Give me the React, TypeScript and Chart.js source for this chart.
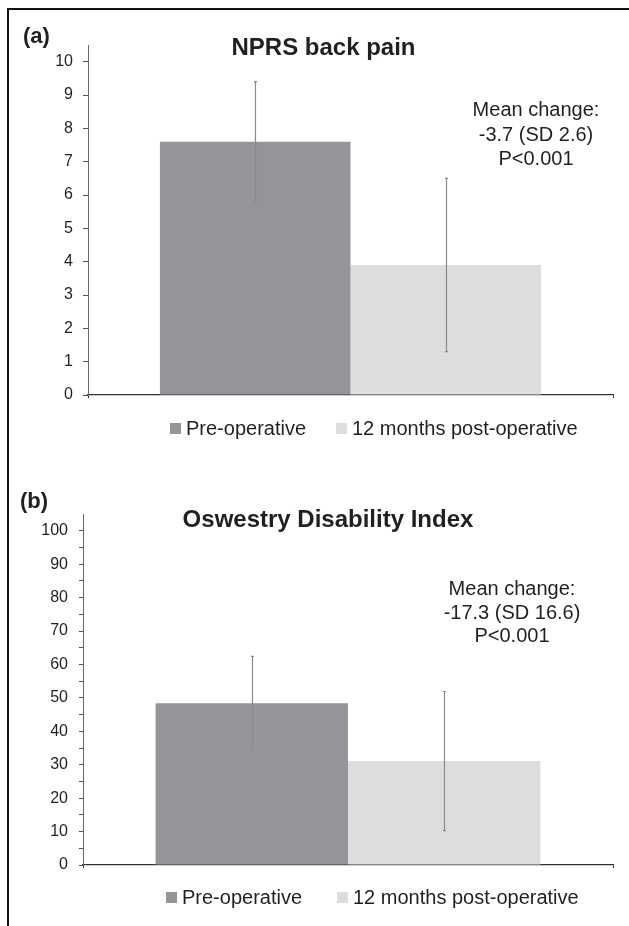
import React, { useEffect, useRef } from 'react';
import { Chart, registerables } from 'chart.js';

Chart.register(...registerables);

// ---------------- data ----------------
const seriesLabels = ['Pre-operative', '12 months post-operative'];
const seriesColors = ['#939598', '#dcddde'];

// Panel (a) NPRS back pain
const nprsCategories = ['NPRS back pain'];
const nprsPreMean = [7.6];
const nprsPreSD = [1.8];
const nprsPostMean = [3.9];
const nprsPostSD = [2.6];
const nprsTicks = [0, 1, 2, 3, 4, 5, 6, 7, 8, 9, 10];
const nprsNotes = ['Mean change:', '-3.7 (SD 2.6)', 'P<0.001'];

// Panel (b) Oswestry Disability Index
const odiCategories = ['Oswestry Disability Index'];
const odiPreMean = [48.4];
const odiPreSD = [14.0];
const odiPostMean = [31.1];
const odiPostSD = [20.8];
const odiTicks = [0, 5, 10, 15, 20, 25, 30, 35, 40, 45, 50, 55, 60, 65, 70, 75, 80, 85, 90, 95, 100];
const odiNotes = ['Mean change:', '-17.3 (SD 16.6)', 'P<0.001'];

// ---------------- style ----------------
const FONT = "'Liberation Sans', Arial, Helvetica, sans-serif";
const TEXT = '#231f20';
const W = 629;
const PANEL_H = 463;

type Spec = {
  letter: string;
  title: string;
  categories: string[];
  pre: number[];
  preSD: number[];
  post: number[];
  postSD: number[];
  ticks: number[];
  notes: string[];
  top: number;
  yMax: number;
  labelStep: number;
  plot: { left: number; top: number; right: number; bottom: number };
  tickLength: number;
  tickPad: number;
  letterPos: [number, number];
  titlePos: [number, number];
  titleSize: number;
  notesX: number;
  notesY: number;
  noteGap: number;
  legendY: number;
  legendX: number[];
};

const specA: Spec = {
  letter: '(a)',
  title: 'NPRS back pain',
  categories: nprsCategories,
  pre: nprsPreMean,
  preSD: nprsPreSD,
  post: nprsPostMean,
  postSD: nprsPostSD,
  ticks: nprsTicks,
  notes: nprsNotes,
  top: 0,
  yMax: 10.5,
  labelStep: 1,
  plot: { left: 88, top: 45, right: 613, bottom: 395 },
  tickLength: 5,
  tickPad: 10,
  letterPos: [23, 43],
  titlePos: [323.5, 55],
  titleSize: 24,
  notesX: 536,
  notesY: 116,
  noteGap: 24.5,
  legendY: 435,
  legendX: [170, 336],
};

const specB: Spec = {
  letter: '(b)',
  title: 'Oswestry Disability Index',
  categories: odiCategories,
  pre: odiPreMean,
  preSD: odiPreSD,
  post: odiPostMean,
  postSD: odiPostSD,
  ticks: odiTicks,
  notes: odiNotes,
  top: PANEL_H,
  yMax: 105,
  labelStep: 10,
  plot: { left: 83, top: 514 - PANEL_H, right: 613, bottom: 865 - PANEL_H },
  tickLength: 4,
  tickPad: 11,
  letterPos: [20, 508 - PANEL_H],
  titlePos: [328, 527 - PANEL_H],
  titleSize: 24,
  notesX: 512,
  notesY: 595 - PANEL_H,
  noteGap: 23.5,
  legendY: 904 - PANEL_H,
  legendX: [166, 337],
};

function Panel({ spec }: { spec: Spec }) {
  const ref = useRef<HTMLCanvasElement>(null);

  useEffect(() => {
    const canvas = ref.current;
    if (!canvas) return;
    const s = spec;
    const sds = [s.preSD, s.postSD];

    const errorPlugin = {
      id: 'errorBars',
      afterDatasetsDraw(chart: any) {
        const ctx = chart.ctx;
        const yScale = chart.scales.y;
        ctx.save();
        ctx.strokeStyle = '#8a8a8a';
        ctx.lineWidth = 1.2;
        chart.data.datasets.forEach((ds: any, i: number) => {
          const meta = chart.getDatasetMeta(i);
          meta.data.forEach((el: any, j: number) => {
            const m = ds.data[j];
            const sd = sds[i][j];
            const x = Math.round(el.x) + 0.5;
            const y1 = yScale.getPixelForValue(m + sd);
            const y2 = yScale.getPixelForValue(m - sd);
            ctx.beginPath();
            ctx.moveTo(x, y1);
            ctx.lineTo(x, y2);
            ctx.moveTo(x - 1.5, y1);
            ctx.lineTo(x + 1.5, y1);
            ctx.moveTo(x - 1.5, y2);
            ctx.lineTo(x + 1.5, y2);
            ctx.stroke();
          });
        });
        ctx.restore();
      },
    };

    const textPlugin = {
      id: 'panelText',
      afterDraw(chart: any) {
        const ctx = chart.ctx;
        ctx.save();
        ctx.textBaseline = 'alphabetic';
        ctx.fillStyle = TEXT;
        ctx.font = `bold 22px ${FONT}`;
        ctx.textAlign = 'left';
        ctx.fillText(s.letter, s.letterPos[0], s.letterPos[1]);
        ctx.font = `bold ${s.titleSize}px ${FONT}`;
        ctx.textAlign = 'center';
        ctx.fillText(s.title, s.titlePos[0], s.titlePos[1]);
        ctx.font = `20px ${FONT}`;
        s.notes.forEach((t, i) => ctx.fillText(t, s.notesX, s.notesY + i * s.noteGap));
        ctx.textAlign = 'left';
        chart.data.datasets.forEach((ds: any, i: number) => {
          const bx = s.legendX[i];
          ctx.fillStyle = ds.backgroundColor;
          ctx.fillRect(bx, s.legendY - 12, 11, 11);
          ctx.fillStyle = TEXT;
          ctx.fillText(ds.label, bx + 16, s.legendY);
        });
        ctx.restore();
      },
    };

    const chart = new Chart(canvas, {
      type: 'bar',
      data: {
        labels: s.categories,
        datasets: [
          {
            label: seriesLabels[0],
            data: s.pre,
            backgroundColor: seriesColors[0],
            borderWidth: 0,
            categoryPercentage: 0.726,
            barPercentage: 1,
          },
          {
            label: seriesLabels[1],
            data: s.post,
            backgroundColor: seriesColors[1],
            borderWidth: 0,
            categoryPercentage: 0.726,
            barPercentage: 1,
          },
        ],
      },
      options: {
        responsive: false,
        animation: false,
        devicePixelRatio: 1,
        layout: {
          padding: {
            left: 0,
            top: s.plot.top,
            right: W - s.plot.right,
            bottom: PANEL_H - s.plot.bottom,
          },
        },
        plugins: {
          legend: { display: false },
          title: { display: false },
          tooltip: { enabled: false },
        },
        scales: {
          x: {
            type: 'category',
            offset: true,
            ticks: { display: false },
            grid: {
              display: true,
              offset: true,
              drawOnChartArea: false,
              drawTicks: true,
              tickLength: 3,
              color: '#333',
            },
            border: { display: true, color: '#333', width: 1.3 },
            afterFit: (sc: any) => {
              sc.height = 0;
            },
          },
          y: {
            min: 0,
            max: s.yMax,
            ticks: {
              autoSkip: false,
              padding: s.tickPad,
              color: TEXT,
              font: { family: FONT, size: 16 },
              callback: (v: any) =>
                Math.abs(Number(v) % s.labelStep) < 1e-9 ? String(v) : '',
            },
            grid: {
              drawOnChartArea: false,
              drawTicks: true,
              tickLength: s.tickLength,
              color: '#555',
            },
            border: { display: true, color: '#666', width: 1 },
            afterBuildTicks: (sc: any) => {
              sc.ticks = s.ticks.map((v) => ({ value: v }));
            },
            afterFit: (sc: any) => {
              sc.width = s.plot.left;
            },
          },
        },
      },
      plugins: [errorPlugin, textPlugin],
    } as any);

    return () => chart.destroy();
  }, [spec]);

  return (
    <canvas
      ref={ref}
      width={W}
      height={PANEL_H}
      style={{ position: 'absolute', left: 0, top: spec.top, width: W, height: PANEL_H, display: 'block' }}
    />
  );
}

export default function App() {
  return (
    <div style={{ position: 'absolute', left: 0, top: 0, width: W, height: 926, overflow: 'hidden', background: '#fff' }}>
      <div
        style={{
          position: 'absolute',
          left: 7,
          top: 8,
          width: W - 7,
          height: 926 - 8,
          borderTop: '2px solid #111',
          borderLeft: '2px solid #111',
          boxSizing: 'border-box',
        }}
      />
      <Panel spec={specA} />
      <Panel spec={specB} />
    </div>
  );
}
